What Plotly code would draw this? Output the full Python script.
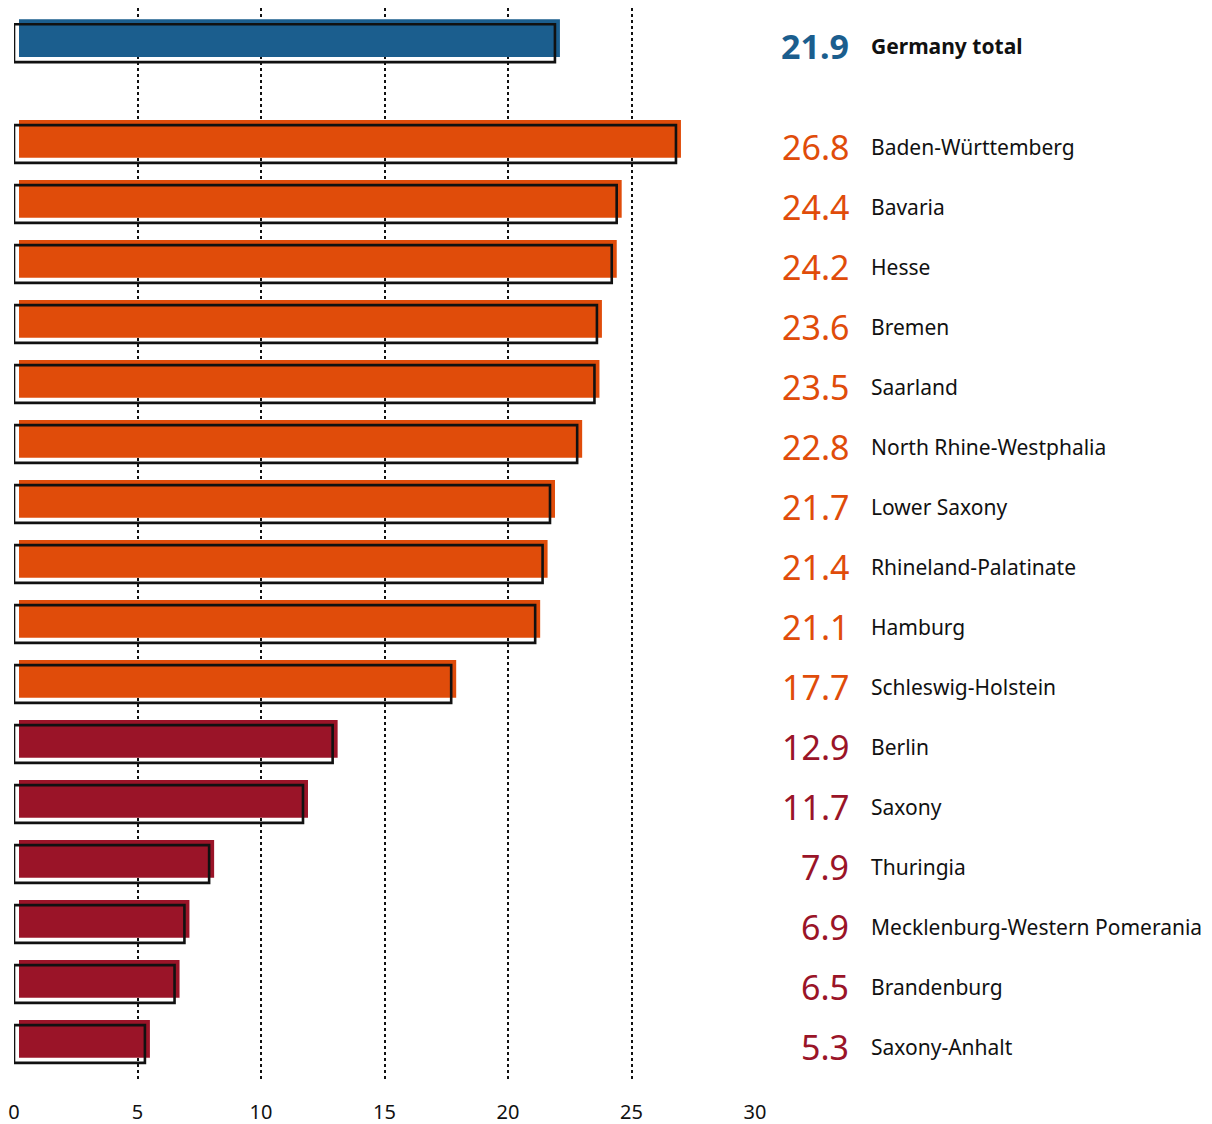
import plotly.graph_objects as go

regions = ["Germany total", "Baden-Württemberg", "Bavaria", "Hesse", "Bremen", "Saarland",
           "North Rhine-Westphalia", "Lower Saxony", "Rhineland-Palatinate", "Hamburg",
           "Schleswig-Holstein", "Berlin", "Saxony", "Thuringia",
           "Mecklenburg-Western Pomerania", "Brandenburg", "Saxony-Anhalt"]
values = [21.9, 26.8, 24.4, 24.2, 23.6, 23.5, 22.8, 21.7, 21.4, 21.1, 17.7,
          12.9, 11.7, 7.9, 6.9, 6.5, 5.3]
groups = ["total"] + ["west"] * 10 + ["east"] * 6
x_ticks = [0, 5, 10, 15, 20, 25, 30]

group_colors = {"total": "#1b5e8e", "west": "#e04c0a", "east": "#9a1428"}
colors = [group_colors[g] for g in groups]

# row positions: the total sits a bit apart from the states
ypos = [-1.68] + list(range(len(regions) - 1))

BAR_W = 0.63
PX_PER_UNIT = 741 / 30

fig = go.Figure()
# filled bar, nudged right and up
fig.add_trace(go.Bar(
    y=ypos, x=values, base=5 / PX_PER_UNIT, orientation="h",
    width=BAR_W, offset=-BAR_W / 2 - 0.085,
    marker=dict(color=colors, line=dict(width=0)),
    hoverinfo="skip", showlegend=False,
))
# black outline bar at the true value
fig.add_trace(go.Bar(
    y=ypos, x=values, orientation="h",
    width=BAR_W, offset=-BAR_W / 2,
    marker=dict(color="rgba(0,0,0,0)", line=dict(color="#111111", width=2.6)),
    hoverinfo="skip", showlegend=False,
))

annotations = []
for i, (name, v, c, y) in enumerate(zip(regions, values, colors, ypos)):
    bold = i == 0
    annotations.append(dict(
        xref="paper", yref="y", x=(851 - 14) / 741, y=y, yshift=-3,
        xanchor="right", yanchor="middle", showarrow=False,
        text=f"<b>{v:.1f}</b>" if bold else f"{v:.1f}",
        font=dict(family="Noto Sans", size=34, color=c),
    ))
    annotations.append(dict(
        xref="paper", yref="y", x=(869 - 14) / 741, y=y, yshift=-3,
        xanchor="left", yanchor="middle", showarrow=False,
        text=f"<b>{name}</b>" if bold else name,
        font=dict(family="Noto Sans", size=21, color="#111111"),
    ))

# page body adds an 8px margin, so the figure is sized 8px smaller
fig.update_layout(
    width=1204, height=1116,
    margin=dict(l=6, r=457, t=0, b=44),
    paper_bgcolor="white", plot_bgcolor="white",
    barmode="overlay",
    annotations=annotations,
    xaxis=dict(
        range=[0, 30], tickvals=x_ticks, showgrid=True, gridcolor="#111111",
        griddash="dot", gridwidth=1.5, zeroline=False, showline=False,
        ticks="outside", ticklen=14, tickcolor="rgba(0,0,0,0)",
        tickfont=dict(family="Noto Sans", size=20, color="#111111"),
        fixedrange=True, automargin=False,
    ),
    yaxis=dict(
        range=[15.6, -2.267], showgrid=False, zeroline=False, showticklabels=False,
        showline=False, fixedrange=True, automargin=False,
    ),
)

fig.write_html("out.html")
